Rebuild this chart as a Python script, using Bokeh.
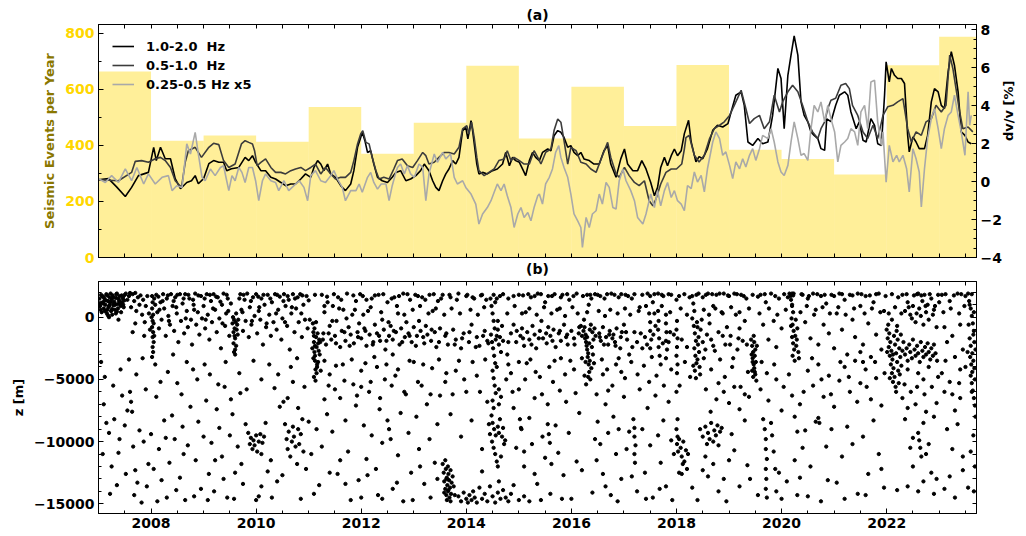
import math
from bokeh.plotting import figure
from bokeh.models import (Range1d, LinearAxis, SingleIntervalTicker, FixedTicker,
                          CustomJSTickFormatter)
from bokeh.layouts import column
from bokeh.embed import file_html
from bokeh.resources import INLINE

# ---------------- data ----------------
bar_years = [2007, 2008, 2009, 2010, 2011, 2012, 2013, 2014, 2015, 2016, 2017, 2018, 2019, 2020, 2021, 2022, 2023]
events_per_year = [663, 416, 435, 413, 537, 370, 481, 684, 424, 609, 469, 687, 384, 351, 296, 686, 787]

# dv/v [%] 1.0-2.0 Hz
hf = [(2007.00,0.09),(2007.19,0.15),(2007.34,-0.27),(2007.51,-0.79),(2007.63,-0.31),(2007.76,0.31),(2007.95,0.48),(2008.05,1.80),(2008.10,1.10),(2008.18,1.80),(2008.27,1.20),(2008.37,1.20),(2008.46,0.15),(2008.56,-0.38),(2008.68,-0.05),(2008.77,0.04),(2008.84,0.31),(2008.90,-0.12),(2009.00,0.15),(2009.10,0.94),(2009.19,1.10),(2009.29,1.01),(2009.38,1.01),(2009.44,0.57),(2009.53,0.67),(2009.67,0.74),(2009.79,1.27),(2009.86,1.10),(2009.93,1.36),(2009.99,1.01),(2010.09,0.57),(2010.18,0.57),(2010.28,0.22),(2010.37,0.13),(2010.47,-0.05),(2010.56,-0.22),(2010.66,-0.13),(2010.75,-0.13),(2010.85,0.13),(2010.94,0.40),(2011.04,0.22),(2011.10,0.74),(2011.17,1.10),(2011.23,0.92),(2011.29,0.57),(2011.36,0.92),(2011.42,0.40),(2011.51,0.22),(2011.61,-0.22),(2011.70,-0.48),(2011.80,-0.13),(2011.86,0.57),(2011.93,1.80),(2011.99,2.32),(2012.02,2.59),(2012.07,2.15),(2012.12,1.53),(2012.18,1.62),(2012.24,0.92),(2012.31,0.22),(2012.40,0.04),(2012.50,-0.05),(2012.59,0.22),(2012.66,0.48),(2012.75,0.57),(2012.85,0.04),(2012.94,0.13),(2013.04,0.31),(2013.13,0.57),(2013.20,0.92),(2013.29,0.57),(2013.36,0.04),(2013.42,-0.31),(2013.48,-0.48),(2013.55,0.04),(2013.61,0.40),(2013.67,0.66),(2013.74,1.10),(2013.80,0.92),(2013.86,1.27),(2013.93,2.68),(2013.99,2.85),(2014.03,2.24),(2014.09,3.21),(2014.12,2.68),(2014.16,1.80),(2014.20,0.92),(2014.24,0.40),(2014.31,0.48),(2014.40,0.40),(2014.50,0.57),(2014.59,0.66),(2014.69,0.92),(2014.75,1.53),(2014.82,0.83),(2014.88,1.27),(2014.94,1.10),(2015.01,1.01),(2015.07,0.66),(2015.13,0.31),(2015.20,1.10),(2015.26,1.53),(2015.32,1.27),(2015.39,1.10),(2015.45,1.53),(2015.55,1.71),(2015.61,1.62),(2015.67,2.41),(2015.74,2.68),(2015.80,2.59),(2015.86,2.32),(2015.93,1.80),(2015.99,1.89),(2016.05,1.53),(2016.12,1.36),(2016.18,1.53),(2016.24,1.19),(2016.34,1.10),(2016.43,0.92),(2016.53,0.92),(2016.62,1.62),(2016.69,1.89),(2016.75,0.92),(2016.85,0.22),(2016.94,1.19),(2017.01,1.71),(2017.07,0.92),(2017.17,0.57),(2017.26,0.57),(2017.34,1.10),(2017.42,0.66),(2017.51,-0.05),(2017.58,-0.75),(2017.64,-0.31),(2017.70,0.74),(2017.77,1.27),(2017.83,0.83),(2017.90,1.36),(2017.96,1.71),(2018.02,1.36),(2018.09,1.62),(2018.15,2.52),(2018.23,3.22),(2018.28,2.08),(2018.37,1.03),(2018.43,1.31),(2018.50,1.20),(2018.59,1.73),(2018.69,2.69),(2018.78,2.96),(2018.88,2.87),(2018.98,3.05),(2019.04,3.66),(2019.13,4.54),(2019.23,4.72),(2019.29,4.01),(2019.36,2.08),(2019.45,1.90),(2019.55,2.26),(2019.64,1.99),(2019.74,2.08),(2019.83,3.48),(2019.93,5.95),(2019.99,5.42),(2020.05,2.78),(2020.12,5.59),(2020.18,6.65),(2020.24,7.67),(2020.31,6.65),(2020.37,4.19),(2020.43,3.48),(2020.50,3.14),(2020.56,2.61),(2020.62,2.43),(2020.69,2.26),(2020.75,1.73),(2020.82,1.64),(2020.86,3.30),(2020.94,3.15),(2021.03,4.01),(2021.10,4.54),(2021.20,4.72),(2021.26,4.54),(2021.32,3.66),(2021.42,2.78),(2021.48,3.14),(2021.55,2.17),(2021.61,2.08),(2021.70,3.31),(2021.77,2.96),(2021.83,1.99),(2021.90,1.90),(2021.96,4.54),(2021.99,6.30),(2022.05,5.25),(2022.09,5.95),(2022.15,5.59),(2022.21,5.42),(2022.28,5.42),(2022.34,5.16),(2022.40,2.43),(2022.43,1.56),(2022.50,2.35),(2022.56,2.08),(2022.62,1.73),(2022.72,1.73),(2022.78,2.43),(2022.85,4.19),(2022.91,4.89),(2022.98,4.72),(2023.04,4.01),(2023.10,3.84),(2023.17,5.77),(2023.23,6.83),(2023.29,6.12),(2023.36,4.72),(2023.42,2.61),(2023.49,2.43),(2023.55,2.08),(2023.61,1.99)]

# dv/v [%] 0.5-1.0 Hz
mf = [(2007.00,0.09),(2007.38,0.04),(2007.63,0.48),(2007.70,1.06),(2007.82,1.10),(2007.95,1.01),(2008.08,1.20),(2008.18,1.27),(2008.27,1.10),(2008.37,0.74),(2008.46,0.04),(2008.58,-0.31),(2008.65,1.01),(2008.71,1.62),(2008.84,1.80),(2008.96,1.27),(2009.10,1.80),(2009.19,2.01),(2009.29,1.94),(2009.38,1.10),(2009.48,0.74),(2009.60,0.92),(2009.72,1.98),(2009.79,2.15),(2009.86,2.06),(2009.93,1.98),(2009.97,1.62),(2010.02,0.83),(2010.09,1.01),(2010.18,1.19),(2010.28,0.74),(2010.37,0.48),(2010.47,0.48),(2010.56,0.40),(2010.66,0.57),(2010.75,0.66),(2010.85,0.74),(2010.94,0.57),(2011.04,0.74),(2011.13,0.92),(2011.23,0.40),(2011.32,0.74),(2011.42,0.40),(2011.51,0.13),(2011.61,0.22),(2011.70,0.22),(2011.80,0.48),(2011.86,1.10),(2011.93,1.98),(2011.99,2.50),(2012.03,2.68),(2012.09,2.06),(2012.15,1.98),(2012.21,1.27),(2012.28,0.57),(2012.34,0.13),(2012.43,0.22),(2012.53,0.13),(2012.62,0.66),(2012.69,1.10),(2012.78,1.19),(2012.88,0.83),(2012.98,0.74),(2013.07,1.10),(2013.17,1.53),(2013.23,1.36),(2013.29,0.92),(2013.39,1.01),(2013.48,1.27),(2013.58,1.53),(2013.67,1.53),(2013.77,1.45),(2013.86,1.80),(2013.93,2.77),(2014.01,2.94),(2014.05,2.50),(2014.10,3.12),(2014.15,2.32),(2014.20,1.27),(2014.24,0.57),(2014.34,0.31),(2014.43,0.48),(2014.53,0.66),(2014.62,1.10),(2014.72,1.19),(2014.78,1.62),(2014.85,1.10),(2014.91,1.27),(2015.01,1.10),(2015.10,0.92),(2015.20,0.92),(2015.29,1.62),(2015.36,1.27),(2015.42,0.92),(2015.51,1.53),(2015.61,1.71),(2015.67,2.68),(2015.74,3.29),(2015.80,3.12),(2015.86,2.15),(2015.93,0.92),(2015.99,1.80),(2016.09,1.62),(2016.18,1.01),(2016.28,0.92),(2016.37,0.66),(2016.47,0.48),(2016.59,1.36),(2016.69,2.06),(2016.75,1.27),(2016.85,0.40),(2016.91,0.22),(2017.01,0.74),(2017.10,0.31),(2017.20,-0.05),(2017.29,-0.22),(2017.39,0.04),(2017.48,-1.01),(2017.55,-1.28),(2017.61,-0.92),(2017.70,-0.13),(2017.80,0.48),(2017.90,0.66),(2018.00,0.66),(2018.10,0.92),(2018.15,1.71),(2018.18,2.31),(2018.24,2.43),(2018.34,1.38),(2018.43,1.03),(2018.53,1.38),(2018.63,2.26),(2018.72,2.78),(2018.82,2.96),(2018.91,3.14),(2019.01,3.48),(2019.10,4.01),(2019.23,4.80),(2019.32,3.84),(2019.39,3.05),(2019.48,3.31),(2019.58,3.48),(2019.67,2.78),(2019.77,3.14),(2019.86,4.54),(2019.96,3.66),(2020.02,4.19),(2020.12,4.72),(2020.21,5.07),(2020.31,4.72),(2020.40,4.01),(2020.50,3.14),(2020.59,2.61),(2020.69,2.26),(2020.75,2.78),(2020.82,3.14),(2020.88,3.84),(2020.94,4.28),(2021.03,4.38),(2021.13,5.07),(2021.22,5.16),(2021.29,4.89),(2021.35,4.01),(2021.45,3.48),(2021.55,2.61),(2021.64,2.26),(2021.74,2.96),(2021.83,2.26),(2021.93,3.48),(2022.02,3.93),(2022.12,4.01),(2022.21,4.19),(2022.31,4.36),(2022.40,2.78),(2022.47,2.08),(2022.56,2.61),(2022.66,2.43),(2022.75,3.14),(2022.85,3.31),(2022.94,4.01),(2023.04,3.66),(2023.13,4.01),(2023.20,6.65),(2023.26,5.95),(2023.32,4.89),(2023.39,3.66),(2023.45,2.78),(2023.55,2.87),(2023.64,2.61)]

# dv/v [%] 0.25-0.5 Hz (x5)
lf = [(2007.00,0.15),(2007.13,-0.05),(2007.25,0.31),(2007.38,-0.05),(2007.51,0.66),(2007.63,0.04),(2007.73,0.74),(2007.86,-0.13),(2007.95,0.40),(2008.08,-0.13),(2008.21,0.22),(2008.33,0.31),(2008.40,-0.48),(2008.49,-0.22),(2008.59,-0.31),(2008.65,1.19),(2008.68,1.98),(2008.75,1.45),(2008.84,2.59),(2008.90,1.45),(2008.97,0.22),(2009.03,0.04),(2009.13,0.66),(2009.22,0.31),(2009.32,0.74),(2009.38,0.83),(2009.44,0.04),(2009.48,-0.48),(2009.54,0.31),(2009.60,0.04),(2009.67,0.74),(2009.73,0.48),(2009.79,-0.05),(2009.86,0.74),(2009.93,0.74),(2009.99,0.04),(2010.05,-1.01),(2010.12,0.04),(2010.18,0.40),(2010.28,0.04),(2010.37,-0.05),(2010.43,-0.48),(2010.53,0.04),(2010.62,-0.48),(2010.72,-0.22),(2010.82,0.04),(2010.91,-0.31),(2010.98,-1.01),(2011.04,0.31),(2011.13,0.57),(2011.23,0.04),(2011.32,-0.05),(2011.42,0.31),(2011.48,0.57),(2011.55,0.13),(2011.64,-0.31),(2011.70,-1.01),(2011.80,-0.48),(2011.90,-0.48),(2011.96,-0.13),(2012.02,-0.57),(2012.12,0.22),(2012.18,0.48),(2012.24,-0.05),(2012.31,-0.40),(2012.38,-0.13),(2012.47,-0.13),(2012.53,-1.01),(2012.59,-0.22),(2012.66,0.48),(2012.69,0.74),(2012.75,0.92),(2012.82,0.40),(2012.88,0.83),(2012.94,0.40),(2013.01,0.22),(2013.10,0.92),(2013.17,0.74),(2013.23,-1.01),(2013.29,0.40),(2013.39,1.45),(2013.45,1.01),(2013.55,1.53),(2013.61,1.19),(2013.70,1.45),(2013.77,0.22),(2013.83,-0.13),(2013.93,0.04),(2013.99,-0.31),(2014.09,-0.66),(2014.18,-1.19),(2014.24,-2.24),(2014.31,-1.71),(2014.40,-1.37),(2014.47,-1.01),(2014.53,-0.57),(2014.59,-0.13),(2014.66,-0.48),(2014.72,-0.13),(2014.78,-0.75),(2014.85,-1.37),(2014.91,-2.42),(2014.98,-1.71),(2015.04,-1.37),(2015.10,-1.89),(2015.17,-1.63),(2015.23,-2.07),(2015.29,-1.37),(2015.36,-0.75),(2015.39,-0.66),(2015.45,-1.19),(2015.51,-0.13),(2015.58,0.22),(2015.64,0.66),(2015.70,1.53),(2015.76,1.89),(2015.80,1.27),(2015.86,0.74),(2015.93,0.22),(2015.99,-0.66),(2016.05,-1.71),(2016.12,-2.07),(2016.18,-2.42),(2016.21,-3.47),(2016.28,-1.89),(2016.34,-2.42),(2016.40,-1.71),(2016.47,-1.54),(2016.53,-0.66),(2016.59,-1.19),(2016.66,-0.05),(2016.72,-0.31),(2016.79,-1.37),(2016.85,-1.45),(2016.91,0.04),(2016.98,0.66),(2017.04,0.04),(2017.13,-0.48),(2017.20,-1.01),(2017.26,-1.89),(2017.36,-2.24),(2017.42,-1.71),(2017.51,-0.66),(2017.58,-1.37),(2017.64,-0.48),(2017.70,-1.28),(2017.77,-0.48),(2017.83,-0.05),(2017.90,-0.84),(2017.96,-0.48),(2018.02,-1.01),(2018.09,-1.19),(2018.15,-1.54),(2018.21,-0.21),(2018.28,-0.38),(2018.34,0.50),(2018.40,-0.03),(2018.47,0.32),(2018.53,-0.55),(2018.59,0.67),(2018.69,2.08),(2018.75,2.61),(2018.82,2.26),(2018.88,1.38),(2018.94,1.56),(2019.01,0.85),(2019.07,0.15),(2019.13,1.03),(2019.20,0.67),(2019.26,1.20),(2019.32,0.76),(2019.39,1.38),(2019.45,1.73),(2019.51,1.11),(2019.58,1.73),(2019.64,2.43),(2019.74,2.26),(2019.80,2.78),(2019.86,2.08),(2019.93,1.03),(2019.99,0.50),(2020.05,0.32),(2020.12,0.85),(2020.18,2.08),(2020.24,3.14),(2020.31,2.26),(2020.37,1.38),(2020.43,1.47),(2020.50,1.11),(2020.56,2.78),(2020.62,4.01),(2020.69,3.66),(2020.75,4.19),(2020.82,3.14),(2020.88,4.01),(2020.94,3.31),(2021.01,2.61),(2021.07,1.03),(2021.13,1.90),(2021.20,2.08),(2021.26,2.26),(2021.32,2.78),(2021.39,2.61),(2021.45,1.90),(2021.51,3.66),(2021.58,4.01),(2021.64,2.78),(2021.70,5.24),(2021.77,5.33),(2021.83,3.14),(2021.90,1.90),(2021.93,2.61),(2021.99,-0.03),(2022.05,1.90),(2022.12,1.03),(2022.19,1.38),(2022.24,1.03),(2022.31,1.38),(2022.38,0.67),(2022.43,-0.55),(2022.50,1.73),(2022.56,1.20),(2022.62,0.50),(2022.66,-1.34),(2022.72,0.67),(2022.78,2.26),(2022.85,3.31),(2022.91,3.84),(2022.98,2.78),(2023.04,1.73),(2023.10,2.78),(2023.17,3.48),(2023.23,3.66),(2023.29,4.54),(2023.36,3.48),(2023.42,2.61),(2023.49,1.38),(2023.55,4.72),(2023.58,2.96),(2023.61,3.48)]

# seismic events (time [yr], z [m])
q_2007_2008 = [(2007.02,1500),(2007.03,900),(2007.05,1800),(2007.06,400),(2007.08,1200),(2007.09,1650),(2007.10,700),(2007.12,1400),(2007.13,1000),(2007.15,1850),(2007.16,300),(2007.18,1300),(2007.19,800),(2007.21,1600),(2007.22,1100),(2007.24,500),(2007.25,1450),(2007.27,1750),(2007.28,950),(2007.30,1250),(2007.31,600),(2007.33,1550),(2007.34,1850),(2007.36,1050),(2007.37,700),(2007.39,1350),(2007.40,1700),(2007.42,900),(2007.43,400),(2007.45,1200),(2007.46,1500),(2007.48,800),(2007.50,1800),(2007.04,1150),(2007.11,1550),(2007.17,600),(2007.23,1900),(2007.29,1150),(2007.35,450),(2007.41,1100),(2007.47,1650),(2007.20,0),(2007.38,-200),(2007.26,200),
  (2007.52,1900),(2007.55,1400),(2007.58,1700),(2007.60,1950),(2007.62,800),(2007.65,1850),(2007.68,1300),(2007.70,1950),(2007.72,500),(2007.75,1600),(2007.78,1000),(2007.80,1750),(2007.83,200),(2007.85,1400),(2007.88,-400),(2007.90,900),(2007.93,1700),(2007.96,300),(2007.98,-1000),(2007.70,-500),(2007.65,-1200),(2007.87,-1500),
  (2008.02,1700),(2008.03,1200),(2008.02,700),(2008.04,200),(2008.03,-300),(2008.02,-800),(2008.04,-1200),(2008.03,-1600),(2008.05,-2000),(2008.03,-2400),(2008.04,-2800),(2008.02,-3200),(2008.06,1500),(2008.05,-500),(2008.01,0),(2008.06,-1500)]

q_2008_2011 = [(2008.10,1800),(2008.12,400),(2008.15,-900),(2008.18,1200),(2008.20,-200),(2008.23,1850),(2008.25,700),(2008.28,-1500),(2008.30,1500),(2008.33,100),(2008.36,-600),(2008.38,1850),(2008.41,900),(2008.44,-1100),(2008.46,1600),(2008.49,300),(2008.52,-2000),(2008.55,1850),(2008.57,-300),(2008.60,1100),(2008.63,-1300),(2008.65,1850),(2008.68,500),(2008.70,-800),(2008.73,1500),(2008.76,-200),(2008.78,-2200),(2008.81,1000),(2008.84,1900),(2008.86,-600),(2008.89,400),(2008.92,-1400),(2008.95,1700),(2008.97,-100),(2009.00,900),(2009.03,-900),(2009.06,1850),(2009.08,200),(2009.11,-1800),(2009.14,1300),(2009.16,-400),(2009.19,1850),(2009.22,600),(2009.25,-1200),(2009.27,1600),(2009.30,-100),(2009.33,-2500),(2009.35,1000),(2009.38,1900),(2009.41,-700),(2009.43,300),(2009.46,1500),(2009.49,-1500),
  (2009.55,-500),(2009.57,-1200),(2009.58,-200),(2009.59,-900),(2009.60,-1700),(2009.61,-400),(2009.62,-2300),(2009.63,-1000),(2009.58,-2800),(2009.60,-3000),(2009.64,-600),(2009.56,0),(2009.62,300),(2009.65,-1400),(2009.57,-2100),(2009.60,-2600),(2009.66,-200),(2009.59,-1500),
  (2009.70,1850),(2009.72,600),(2009.75,-1100),(2009.78,1400),(2009.80,-300),(2009.83,1900),(2009.86,-1600),(2009.88,800),(2009.91,-600),(2009.94,1600),(2009.97,100),(2010.00,1850),(2010.02,-1300),(2010.05,500),(2010.08,-200),(2010.10,1500),(2010.13,-2200),(2010.16,1000),(2010.19,-800),(2010.22,1800),(2010.25,200),(2010.28,-1500),(2010.30,1200),(2010.33,-400),(2010.36,1850),(2010.39,-1000),(2010.42,600),(2010.45,1650),(2010.48,-1800),(2010.50,-100),(2010.53,1850),(2010.56,900),(2010.59,-700),(2010.62,1400),(2010.64,-2600),(2010.67,300),(2010.70,1850),(2010.73,-1200),(2010.76,700),(2010.79,1600),(2010.81,-400),(2010.84,1850),(2010.87,-1600),(2010.90,1000),(2010.93,-200),(2010.96,1700),(2010.98,-900),
  (2011.08,-500),(2011.09,-1200),(2011.10,-2000),(2011.11,-2800),(2011.12,-3500),(2011.13,-4200),(2011.10,-4800),(2011.14,-1600),(2011.15,-2400),(2011.12,-3100),(2011.16,-3800),(2011.11,-900),(2011.13,-5100),(2011.17,-1300),(2011.18,-2100),(2011.09,-3300),(2011.15,-4500),(2011.19,-2700),(2011.20,-1800),(2011.14,-400),(2011.21,-3000),(2011.10,-1500),(2011.16,-4000),(2011.12,-2300),(2011.22,-2000),(2011.18,-3600),(2011.07,-2500),(2011.23,-4300)]

q_deep_2007_2011 = [(2007.05,-3600),(2007.10,-7000),(2007.15,-8500),(2007.20,-9300),(2007.25,-12000),(2007.30,-8200),(2007.35,-13500),(2007.40,-9800),(2007.45,-6300),(2007.50,-8700),(2007.55,-7500),(2007.60,-6000),(2007.62,-6800),(2007.64,-7600),(2007.66,-10400),(2007.70,-12300),(2007.74,-13300),(2007.78,-9100),(2007.82,-14900),(2007.86,-10000),(2007.90,-5800),(2007.95,-11800),(2008.00,-9400),(2008.05,-12200),(2008.10,-6400),(2008.15,-10600),(2008.20,-13100),(2008.25,-8300),(2008.30,-14500),(2008.35,-11700),(2008.40,-7900),(2008.45,-9800),(2008.50,-5300),(2008.55,-12900),(2008.60,-8800),(2008.65,-14700),(2008.70,-10300),(2008.75,-7200),(2008.80,-4200),(2008.85,-11500),(2008.90,-8400),(2008.95,-13800),(2009.00,-9600),(2009.05,-6700),(2009.10,-12600),(2009.15,-10100),(2009.20,-14000),(2009.25,-7400),(2009.30,-8900),(2009.35,-11200),(2009.40,-5600),(2009.45,-14500),(2009.50,-9500),(2009.55,-7800),(2009.60,-12500),(2009.65,-10400),(2009.70,-6100),(2009.75,-13400),(2009.80,-8600),
  (2009.85,-9300),(2009.88,-10200),(2009.90,-9700),(2009.93,-10600),(2009.95,-9900),(2009.97,-10300),(2010.00,-9500),(2010.02,-10800),(2010.05,-10000),(2010.08,-9400),(2010.10,-11000),(2010.12,-10100),(2010.15,-9600),(2010.00,-14700),(2010.05,-14400),(2010.10,-13600),(2010.18,-8500),(2010.22,-12400),(2010.28,-11500),(2010.35,-5700),(2010.40,-13200),(2010.45,-7200),
  (2010.55,-8600),(2010.58,-9800),(2010.60,-10600),(2010.62,-9200),(2010.65,-11200),(2010.68,-10000),(2010.70,-8800),(2010.72,-9600),(2010.75,-10400),(2010.78,-11800),(2010.80,-9000),(2010.82,-10200),(2010.85,-9400),(2010.88,-8200),(2010.90,-10800),(2010.60,-6500),(2010.70,-5200),(2010.80,-7300),(2010.85,-14600),(2010.95,-12200),(2011.00,-8400),(2011.05,-11000),(2011.15,-9000),(2011.20,-13500),(2011.25,-10400),(2011.30,-6600)]

q_2011_2013 = [(2011.25,1800),(2011.28,-1300),(2011.30,400),(2011.33,-2200),(2011.36,1200),(2011.40,-700),(2011.43,-1800),(2011.46,900),(2011.50,-1500),(2011.53,-300),(2011.56,1600),(2011.60,-2400),(2011.63,-1100),(2011.66,600),(2011.70,-1900),(2011.73,1900),(2011.76,-800),(2011.80,-1400),(2011.83,200),(2011.86,-2100),(2011.90,1300),(2011.93,-1200),(2011.96,-500),(2012.00,-1700),(2012.03,1700),(2012.06,-900),(2012.10,-2300),(2012.13,500),(2012.16,-1400),(2012.20,1500),(2012.23,-2000),(2012.26,-600),(2012.30,-1300),(2012.33,1800),(2012.36,-1900),(2012.40,-200),(2012.43,-1000),(2012.46,-2600),(2012.50,1200),(2012.53,-1500),(2012.56,-700),(2012.60,-1800),(2012.63,1600),(2012.66,-1200),(2012.70,300),(2012.73,-2200),(2012.76,-900),(2012.80,1900),(2012.83,-1600),(2012.86,-400),(2012.90,-1300),(2012.93,1400),(2012.96,-2000),(2013.00,-800),(2013.03,1800),(2013.06,-1500),(2013.10,-300),(2013.13,-1100),(2013.16,1600),(2013.20,-2100),(2013.23,-700),(2013.26,-1400),(2013.30,1800),(2013.33,-1900),(2013.36,500),(2013.40,-1200),(2013.43,-2400),(2013.46,1300),(2013.50,-900),
  (2011.30,-3500),(2011.35,-7800),(2011.40,-4600),(2011.45,-9200),(2011.50,-5800),(2011.55,-12600),(2011.60,-6500),(2011.65,-3800),(2011.70,-8300),(2011.75,-10800),(2011.80,-14700),(2011.85,-5400),(2011.90,-7100),(2011.95,-13100),(2012.00,-4300),(2012.05,-8700),(2012.10,-11400),(2012.15,-6000),(2012.20,-9500),(2012.25,-3200),(2012.28,-12200),(2012.32,-14300),(2012.35,-7400),(2012.40,-10100),(2012.45,-5000),(2012.50,-8300),(2012.53,-9000),(2012.56,-9800),(2012.60,-13800),(2012.65,-4700),(2012.70,-11100),(2012.75,-7700),(2012.80,-14800),(2012.85,-6200),(2012.90,-9300),(2012.95,-12500),(2013.00,-3600),(2013.05,-8000),(2013.10,-10600),(2013.15,-5500),(2013.20,-13400),(2013.25,-7000),(2013.30,-9800),(2013.35,-4100),(2013.40,-11700),(2013.45,-8600),(2013.50,-6300),(2012.30,-4000),(2012.60,-3000),(2012.00,-5600),(2011.60,-11500)]

q_2013_2016 = [(2013.55,-11800),(2013.57,-12500),(2013.58,-13200),(2013.60,-13800),(2013.61,-12200),(2013.62,-14300),(2013.63,-12900),(2013.64,-13500),(2013.65,-14000),(2013.66,-12600),(2013.67,-13100),(2013.68,-14500),(2013.69,-13700),(2013.70,-12300),(2013.71,-14200),(2013.72,-13300),(2013.60,-11500),(2013.63,-14700),(2013.66,-13900),(2013.74,-12800),(2013.76,-13600),(2013.58,-14100),(2013.65,-12000),(2013.70,-14800),(2013.78,-14300),(2013.62,-13000),
  (2013.85,-14400),(2013.90,-14800),(2013.95,-14100),(2014.00,-14600),(2014.03,-14900),(2014.06,-14300),(2014.10,-14700),(2014.13,-14000),(2014.16,-14500),(2014.20,-14900),(2014.25,-13700),(2014.30,-14600),(2014.35,-14200),(2014.40,-14800),(2014.45,-13600),(2014.50,-14400),(2014.55,-14900),(2014.60,-14100),(2014.65,-14600),(2014.70,-13900),(2014.75,-14500),(2014.80,-14800),(2014.85,-14200),(2014.90,-13500),(2015.00,-14700),(2015.10,-14400),(2015.20,-14800),
  (2014.46,1500),(2014.48,900),(2014.50,300),(2014.52,-300),(2014.54,-900),(2014.47,-1400),(2014.49,-2000),(2014.51,-2500),(2014.53,-3100),(2014.55,-3700),(2014.50,-4300),(2014.52,-4900),(2014.54,-5500),(2014.56,-6100),(2014.50,-6700),(2014.52,-7300),(2014.48,-7900),(2014.50,-8500),(2014.53,-9000),(2014.56,-9500),(2014.49,-10000),(2014.52,-10500),(2014.55,-11000),(2014.58,-11600),(2014.60,-8800),(2014.62,-9300),(2014.64,-8200),(2014.58,-1500),(2014.60,-1000),(2014.62,-2200),(2014.56,-1800),(2014.60,-300),(2014.64,-1600),(2014.66,-2800),(2014.68,-9600),(2014.70,-8900),(2014.72,-10200),(2014.66,-11200),(2014.58,-4000),(2014.62,-5800),(2014.55,1200),(2014.60,-12000),(2014.45,-9400),(2014.43,-8600),(2014.68,-700),(2014.70,-1900),(2014.74,-9900),
  (2013.55,1800),(2013.60,-1500),(2013.65,-2200),(2013.70,1600),(2013.75,-1000),(2013.80,-1800),(2013.85,1900),(2013.90,-2500),(2013.95,-1300),(2014.00,1700),(2014.05,-2000),(2014.10,-600),(2014.15,1500),(2014.20,-1600),(2014.25,-2300),(2014.30,1800),(2014.35,-1100),(2014.40,-1900),(2013.60,-5200),(2013.70,-7800),(2013.80,-4300),(2013.90,-9600),(2014.00,-6000),(2014.10,-8300),(2014.20,-4700),(2014.30,-10600),(2014.40,-6800),
  (2014.80,1500),(2014.85,-1300),(2014.90,-600),(2014.95,-2000),(2015.00,1800),(2015.03,-1500),(2015.06,-900),(2015.10,-2300),(2015.13,400),(2015.16,-1200),(2015.20,-1800),(2015.23,1600),(2015.26,-700),(2015.30,-1400),(2015.33,-2500),(2015.36,1900),(2015.40,-1100),(2015.43,-300),(2015.46,-1700),(2015.50,1200),(2015.53,-2100),(2015.56,-800),(2015.60,-1500),(2015.63,1700),(2015.66,-1000),(2015.70,-2400),(2015.73,600),(2015.76,-1300),(2015.80,-1900),(2015.83,1800),(2015.86,-600),(2015.90,-1600),(2015.93,-2200),(2015.96,1400),(2016.00,-1100),(2016.05,-1700),(2016.10,1900),(2016.15,-800),
  (2014.85,-4500),(2014.90,-7300),(2014.95,-10500),(2015.00,-5800),(2015.05,-9000),(2015.10,-12000),(2015.15,-3700),(2015.20,-8100),(2015.25,-10200),(2015.30,-6500),(2015.35,-13400),(2015.40,-4800),(2015.45,-9600),(2015.50,-11300),(2015.55,-7000),(2015.60,-14200),(2015.65,-5200),(2015.70,-8700),(2015.75,-10900),(2015.80,-3300),(2015.85,-12700),(2015.90,-6800),(2015.95,-9300),(2016.00,-14600),(2016.05,-4200),(2016.10,-11600),(2016.15,-7700),(2015.55,-8600),(2015.57,-9400),(2015.59,-10100),(2015.02,-8200),(2015.04,-8900),(2014.78,-3000),(2014.80,-3800)]

q_2016_2018 = [(2016.22,1700),(2016.24,-200),(2016.25,-800),(2016.27,-1400),(2016.28,-2000),(2016.30,-2600),(2016.31,-3200),(2016.33,-3800),(2016.34,-4400),(2016.36,-5000),(2016.23,-1100),(2016.26,-1700),(2016.29,-2300),(2016.32,-2900),(2016.35,-3500),(2016.38,-4100),(2016.40,-1200),(2016.42,-1800),(2016.37,-600),(2016.30,400),(2016.33,1000),(2016.36,1800),(2016.39,-2400),(2016.41,-3000),(2016.44,-900),(2016.46,-1500),(2016.20,-1500),(2016.18,-700),(2016.32,-4800),(2016.28,-5400),(2016.35,-1000),(2016.30,-1600),(2016.34,-2100),(2016.27,-3600),(2016.25,-4700),(2016.43,-3700),
  (2016.50,1800),(2016.53,-1300),(2016.56,-1900),(2016.60,-800),(2016.63,1500),(2016.66,-1600),(2016.70,-2200),(2016.73,-1100),(2016.76,1900),(2016.78,-1700),(2016.80,-1400),(2016.83,-2000),(2016.86,-900),(2016.90,1600),(2016.93,-2500),(2016.96,-1200),(2017.00,-600),(2017.03,1800),(2017.06,-1800),(2017.10,-3000),(2016.60,-4600),(2016.70,-5900),(2016.85,-3800),(2016.95,-4400),
  (2016.50,-8400),(2016.55,-10200),(2016.60,-12600),(2016.65,-7000),(2016.70,-9300),(2016.75,-14300),(2016.80,-8000),(2016.85,-11000),(2016.90,-9000),(2016.95,-13000),(2017.00,-6400),(2017.05,-10600),(2016.45,-9800),(2016.48,-11500),
  (2017.18,-8200),(2017.20,-8900),(2017.20,-9600),(2017.22,-10300),(2017.20,-11000),(2017.21,-11700),(2017.15,1500),(2017.20,-1200),(2017.25,-2000),(2017.30,800),(2017.35,-2500),(2017.40,-1600),(2017.45,1900),(2017.48,300),(2017.50,-400),(2017.50,-1100),(2017.52,-1800),(2017.50,-2500),(2017.53,-3200),(2017.55,1200),(2017.60,-700),(2017.65,1900),(2017.65,500),(2017.66,-300),(2017.65,-1000),(2017.67,-1700),(2017.66,-2400),(2017.68,-3100),(2017.70,-3800),(2017.75,1700),(2017.80,200),(2017.80,-500),(2017.81,-1200),(2017.80,-1900),(2017.82,-2600),(2017.80,-3300),(2017.85,-2000),(2017.90,1800),(2017.95,-1400),
  (2017.30,-5800),(2017.35,-9000),(2017.40,-12500),(2017.45,-7300),(2017.50,-10300),(2017.55,-14500),(2017.60,-6300),(2017.65,-9500),(2017.70,-11700),(2017.75,-8300),(2017.80,-13600),(2017.85,-6800),(2017.90,-9900),(2017.95,-11000),(2017.25,-14000),(2017.10,-9200)]

q_2018_2020 = [(2018.00,1400),(2018.01,-300),(2018.00,-1000),(2018.02,-1700),(2018.01,-2400),(2018.00,-3100),(2018.02,-3800),(2018.01,-4500),(2018.00,-6000),(2018.02,-8200),(2018.00,-9000),(2018.02,-9600),(2018.01,-10200),(2018.03,-10800),(2018.05,-9800),(2018.08,-10500),(2018.10,-11200),(2018.13,-10000),(2018.15,-11600),(2018.18,-10700),(2018.20,-12200),(2018.05,-12500),(2018.12,-11800),(2018.10,-12600),(2018.22,-11000),
  (2018.30,1700),(2018.32,1100),(2018.34,500),(2018.30,-100),(2018.33,-700),(2018.35,-1300),(2018.37,-1900),(2018.34,-2500),(2018.36,-3100),(2018.38,-3700),(2018.35,-4300),(2018.37,-4900),(2018.40,-800),(2018.42,-1600),(2018.41,-2200),(2018.43,-2800),(2018.40,-3400),(2018.44,-4000),(2018.46,-1000),(2018.48,-200),(2018.50,-2000),(2018.45,-4600),(2018.38,1800),(2018.50,1600),(2018.55,-2600),(2018.52,-3300),(2018.32,-3900),(2018.39,-400),
  (2018.45,-9000),(2018.50,-9600),(2018.55,-8800),(2018.58,-10200),(2018.60,-9300),(2018.63,-9800),(2018.66,-8500),(2018.70,-10000),(2018.72,-9100),(2018.75,-9500),(2018.78,-8700),(2018.80,-10300),(2018.83,-9200),(2018.86,-8900),(2018.50,-12300),(2018.55,-11200),(2018.70,-11800),(2018.65,-7600),
  (2018.60,1900),(2018.63,-500),(2018.66,-1800),(2018.70,900),(2018.73,-2700),(2018.76,1800),(2018.80,-1200),(2018.83,-3400),(2018.86,400),(2018.90,1900),(2018.93,-2200),(2018.96,-800),(2019.00,1700),(2019.03,-1500),(2019.06,-4000),(2019.10,1900),(2019.13,200),(2019.16,-2600),(2019.20,-900),(2019.23,1800),(2019.26,-1900),(2019.30,-300),(2019.33,1500),(2019.36,-4400),(2018.80,-5300),(2018.90,-6000),(2019.00,-6900),(2019.10,-5600),(2019.20,-7400),(2019.30,-6200),
  (2018.60,-12800),(2018.80,-14000),(2018.90,-13000),(2019.00,-11500),(2019.05,-9400),(2019.10,-10700),(2019.20,-13600),(2019.30,-8300),(2019.35,-11900),
  (2019.42,-1800),(2019.44,-2300),(2019.46,-2800),(2019.45,-3300),(2019.47,-3800),(2019.44,-4300),(2019.46,-4800),(2019.48,-2000),(2019.50,-2600),(2019.49,-3100),(2019.51,-3600),(2019.48,-4100),(2019.50,-4600),(2019.52,-5100),(2019.43,-3000),(2019.53,-2300),(2019.47,-1500),(2019.45,-3600),(2019.49,-4400),
  (2019.65,-8200),(2019.68,-9000),(2019.70,-9800),(2019.70,-10600),(2019.72,-11400),(2019.70,-12200),(2019.71,-13000),(2019.70,-13800),(2019.72,-14500),(2019.80,-8500),(2019.82,-9500),(2019.85,-10800),(2019.60,1800),(2019.65,-600),(2019.70,1200),(2019.75,-1800),(2019.80,1900),(2019.85,-300),(2019.90,-2400),(2019.95,1500),(2020.00,-900),(2019.60,-5800),(2019.75,-6700),(2019.90,-5000),(2020.00,-7500),(2019.95,-12500),(2020.00,-14600),(2019.90,-14000)]

q_2020_2022 = [(2020.15,1900),(2020.17,1700),(2020.20,1900),(2020.18,1400),(2020.20,900),(2020.22,400),(2020.19,-100),(2020.21,-600),(2020.23,-1100),(2020.20,-1600),(2020.22,-2100),(2020.24,-2600),(2020.21,-3100),(2020.26,-1500),(2020.28,-2300),(2020.30,-900),(2020.32,-2800),(2020.25,-3500),(2020.18,-700),(2020.27,-200),(2020.29,-1800),(2020.20,1000),(2020.23,1900),(2020.33,-3300),
  (2020.20,-6300),(2020.25,-8000),(2020.30,-9200),(2020.35,-7000),(2020.40,-10500),(2020.35,-12900),(2020.30,-14300),(2020.25,-11500),
  (2020.40,1800),(2020.45,-400),(2020.50,1500),(2020.55,-1700),(2020.60,1900),(2020.65,600),(2020.70,-2200),(2020.75,1700),(2020.80,-600),(2020.85,1100),(2020.90,-1300),(2020.95,1800),(2021.00,-2500),(2021.05,300),(2021.10,1900),(2021.15,-1000),(2021.20,1400),(2021.25,-3000),(2021.30,1800),(2021.35,-200),(2021.40,-1600),(2021.45,1900),(2021.50,900),(2021.55,-2200),(2021.60,1700),(2021.65,-500),(2021.70,-3200),(2021.75,1200),(2021.80,-1400),(2021.85,1900),(2021.90,-2600),(2021.95,500),
  (2020.50,-4300),(2020.60,-5500),(2020.70,-3800),(2020.80,-6400),(2020.90,-4700),(2021.00,-7200),(2021.10,-5100),(2021.20,-4000),(2021.30,-6000),(2021.40,-3500),(2021.50,-5300),(2021.60,-4200),(2021.70,-6600),(2021.80,-4900),(2021.90,-7100),(2021.50,-2800),(2021.55,-3600),
  (2020.45,-9100),(2020.55,-12000),(2020.65,-8400),(2020.75,-14800),(2020.85,-10400),(2020.95,-9000),(2021.05,-13300),(2021.15,-11200),(2021.25,-8800),(2021.35,-10200),(2021.45,-14200),(2021.55,-9600),(2021.65,-12600),(2021.75,-8300),(2021.85,-11000),(2021.95,-13700),(2020.70,-8100),(2020.72,-8500)]

q_2022_2024 = [(2022.00,-1000),(2022.02,-1700),(2022.04,-2400),(2022.06,-3100),(2022.08,-3800),(2022.10,-4500),(2022.12,-5200),(2022.05,-1300),(2022.07,-2000),(2022.09,-2700),(2022.11,-3400),(2022.13,-4100),(2022.15,-4800),(2022.14,-1500),(2022.16,-2200),(2022.18,-2900),(2022.20,-3600),(2022.22,-4300),(2022.17,-5600),(2022.19,-1100),(2022.21,-1800),(2022.24,-2500),(2022.26,-3200),(2022.28,-3900),(2022.25,-4600),(2022.03,-600),(2022.10,-200),(2022.20,-700),(2022.27,-1400),(2022.12,-3000),(2022.01,-2800),(2022.23,-5300),(2022.18,-6000),(2022.06,-4900),(2022.30,-2700),
  (2022.32,-2000),(2022.35,-3000),(2022.38,-2500),(2022.40,-3500),(2022.43,-2200),(2022.45,-2800),(2022.48,-3300),(2022.50,-1800),(2022.53,-2600),(2022.55,-3100),(2022.58,-2300),(2022.60,-2900),(2022.63,-3600),(2022.65,-2000),(2022.68,-2700),(2022.70,-3200),(2022.73,-2400),(2022.75,-3000),(2022.78,-2100),(2022.80,-2800),(2022.83,-3400),(2022.85,-2500),(2022.88,-3100),(2022.90,-2200),(2022.93,-2900),(2022.96,-3500),(2022.40,-4200),(2022.60,-4500),(2022.80,-4000),(2022.70,-5000),
  (2022.30,1800),(2022.35,500),(2022.40,1200),(2022.45,200),(2022.50,900),(2022.55,-400),(2022.60,1900),(2022.62,700),(2022.65,100),(2022.68,1300),(2022.70,-600),(2022.72,1800),(2022.75,400),(2022.78,1000),(2022.80,-200),(2022.85,1500),(2022.90,600),(2022.95,-800),(2023.00,1200),
  (2022.30,-6500),(2022.35,-8200),(2022.40,-7300),(2022.50,-9700),(2022.55,-7000),(2022.60,-9300),(2022.62,-9900),(2022.64,-10500),(2022.66,-11200),(2022.70,-8500),(2022.75,-7600),(2022.80,-10200),(2022.85,-12500),(2022.90,-8000),(2022.95,-6900),(2022.40,-13600),(2022.50,-12000),(2022.70,-13200),(2022.90,-14200),
  (2023.05,1800),(2023.10,-800),(2023.15,-2000),(2023.20,1300),(2023.25,-1500),(2023.30,-3200),(2023.35,1900),(2023.40,-600),(2023.45,-2600),(2023.05,-4500),(2023.10,-6000),(2023.20,-5200),(2023.30,-7500),(2023.40,-4200),(2023.15,-9000),(2023.25,-10600),(2023.35,-8600),(2023.45,-12300),(2023.10,-13800),(2023.30,-14500),(2023.40,-6500),(2023.45,-11200),
  (2023.55,1900),(2023.57,1300),(2023.60,700),(2023.62,100),(2023.64,-500),(2023.66,-1100),(2023.58,-1700),(2023.60,-2300),(2023.63,-2900),(2023.65,-3500),(2023.67,-4100),(2023.60,-4700),(2023.62,-5300),(2023.64,-5900),(2023.66,-6500),(2023.68,-7100),(2023.56,-600),(2023.59,-3200),(2023.61,-3800),(2023.63,-4400),(2023.65,-1400),(2023.67,-2000),(2023.69,-2600),(2023.58,1000),(2023.62,-6000),(2023.68,-5000),(2023.54,-2800),(2023.66,400),(2023.69,-8000),(2023.65,-9500),(2023.68,-12000),(2023.66,-14000)]

q_top_band = [(2007.01,1000),(2007.04,600),(2007.07,1700),(2007.09,1100),(2007.12,500),(2007.14,1350),(2007.17,1750),(2007.20,900),(2007.23,1250),(2007.26,650),(2007.28,1600),(2007.32,1000),(2007.35,1900),(2007.38,1500),(2007.40,1250),(2007.44,1750),(2007.47,1000),(2007.49,1350),(2007.18,150),(2007.33,300),
  (2008.08,1000),(2008.14,1650),(2008.22,1300),(2008.32,1750),(2008.43,1300),(2008.50,1800),(2008.62,1500),(2008.71,1800),(2008.80,1400),(2008.90,1750),(2009.02,1500),(2009.12,1800),(2009.24,1650),(2009.32,1250),(2009.44,1800),(2009.52,1100),(2009.68,1500),(2009.76,1800),(2009.90,1300),(2010.04,1650),(2010.14,1800),(2010.27,1500),(2010.40,1800),(2010.52,1300),(2010.60,1700),(2010.74,1500),(2010.88,1750),(2011.00,1350),(2011.12,1800),(2011.35,1650),(2011.48,1850),(2011.62,1400),(2011.85,1750),(2011.98,1850),(2012.10,1400),(2012.26,1750),(2012.42,1850),(2012.58,1500),(2012.72,1700),(2012.88,1850),(2013.08,1700),(2013.22,1400),(2013.38,1850),(2013.52,1500),(2013.68,1800),(2013.82,1400),(2014.02,1800),(2014.12,1600),(2014.28,1750),(2014.38,1400),(2014.52,1800),(2014.58,1500),(2014.64,1700),(2014.70,1850),(2014.90,1700),(2015.08,1750),(2015.18,1850),(2015.30,1700),(2015.42,1850),(2015.56,1700),(2015.68,1850),(2015.80,1600),(2015.92,1850),(2016.04,1700),(2016.30,1800),(2016.38,1500),(2016.45,1850),(2016.55,1700),(2016.68,1850),(2016.82,1800),(2016.95,1850),(2017.08,1700),(2017.20,1850),(2017.35,1800),(2017.50,1700),(2017.58,1850),(2017.72,1800),(2017.85,1850),(2018.05,1700),(2018.15,1850),(2018.25,1600),(2018.42,1900),(2018.56,1800),(2018.68,1850),(2018.82,1900),(2018.98,1750),(2019.15,1850),(2019.28,1700),(2019.45,1800),(2019.55,1650),(2019.68,1850),(2019.88,1700),(2020.05,1850),(2020.12,1600),(2020.22,1750),(2020.38,1850),(2020.52,1700),(2020.68,1850),(2020.82,1800),(2021.00,1700),(2021.15,1850),(2021.35,1750),(2021.52,1850),(2021.68,1750),(2021.80,1850),(2021.98,1700),(2022.10,1850),(2022.22,1600),(2022.38,1850),(2022.52,1750),(2022.58,1850),(2022.66,1750),(2022.82,1850),(2022.98,1800),(2023.12,1850),(2023.28,1750),(2023.42,1850),(2023.50,1700),(2023.62,1850),
  (2008.16,600),(2008.34,-300),(2008.48,800),(2008.66,-100),(2008.82,600),(2009.04,-200),(2009.18,700),(2009.36,-500),(2009.47,500),(2009.74,400),(2009.92,-300),(2010.06,800),(2010.20,-500),(2010.38,300),(2010.55,-400),(2010.68,800),(2010.86,300),(2011.02,-200),(2011.30,900),(2011.45,-300),(2011.58,700),(2011.72,-100),(2011.88,600),(2012.04,200),(2012.18,800),(2012.38,400),(2012.52,-400),(2012.68,900),(2012.82,200),(2012.98,600),(2013.12,900),(2013.28,300),(2013.42,700),(2013.58,200),(2013.72,700),(2013.88,300),(2014.08,600),(2014.22,200),(2014.34,800),(2014.78,300),(2014.92,900),(2015.06,300),(2015.20,700),(2015.34,200),(2015.48,800),(2015.62,300),(2015.78,700),(2015.88,100),(2016.02,800),(2016.12,300),(2016.52,500),(2016.64,100),(2016.74,600),(2016.88,300),(2017.02,700),(2017.12,200),(2017.28,500),(2017.42,900),(2017.58,300),(2017.72,900),(2017.88,400),(2018.08,700),(2018.20,200),(2018.52,600),(2018.62,200),(2018.74,700),(2018.88,300),(2019.04,800),(2019.20,400),(2019.38,700),(2019.58,300),(2019.76,700),(2019.92,200),(2020.08,600),(2020.36,400),(2020.48,900),(2020.62,200),(2020.78,800),(2020.92,300),(2021.08,800),(2021.22,200),(2021.38,700),(2021.58,300),(2021.72,700),(2021.88,400),(2022.04,300),(2022.16,800),(2022.28,300),(2022.42,800),(2022.48,-100),(2022.57,300),(2022.74,900),(2022.88,200),(2022.92,900),(2023.08,400),(2023.22,700),(2023.38,300),(2023.48,900)]

q_mid_band = [(2011.27,-1800),(2011.38,-1300),(2011.52,-2100),(2011.68,-1200),(2011.78,-2300),(2011.94,-1600),(2012.08,-1100),(2012.22,-2200),(2012.34,-1500),(2012.48,-1900),(2012.62,-1100),(2012.78,-2000),(2012.92,-1500),(2013.04,-2300),(2013.18,-1600),(2013.34,-1000),(2013.48,-2000),(2013.62,-1300),(2013.78,-2200),(2013.92,-1700),(2014.06,-1200),(2014.18,-2400),(2014.32,-1500),(2014.42,-2100),(2014.80,-2000),(2014.96,-1100),(2015.08,-1700),(2015.24,-2200),(2015.38,-1700),(2015.52,-1300),(2015.64,-1900),(2015.78,-1100),(2015.92,-1400),(2016.06,-2200),(2016.14,-1300),(2016.54,-1600),(2016.62,-2200),(2016.72,-1400),(2016.84,-2300),(2016.94,-1600),(2017.04,-1200),(2017.16,-2400),(2017.32,-1300),(2017.44,-2200),(2017.56,-1400),(2017.74,-2100),(2017.88,-1200),(2018.10,-1800),(2018.20,-2400),(2018.58,-1400),(2018.70,-2300),(2018.88,-1500),(2019.02,-2200),(2019.18,-1700),(2019.34,-2200),
  (2007.12,-4800),(2007.28,-5500),(2007.42,-4200),(2007.58,-3400),(2007.72,-4600),(2007.84,-3300),(2008.08,-3800),(2008.18,-5200),(2008.32,-4400),(2008.42,-3000),(2008.58,-6200),(2008.68,-3600),(2008.88,-5000),(2009.02,-3800),(2009.12,-4600),(2009.28,-5400),(2009.42,-3600),(2009.52,-6600),(2009.68,-4500),(2009.82,-5800),(2009.95,-3500),(2010.10,-5000),(2010.25,-3800),(2010.42,-4600),(2010.52,-6800),(2010.66,-4000),(2010.78,-3300),(2010.92,-5600),(2011.38,-5500),(2011.52,-3900),(2011.68,-5100),(2011.82,-3400),(2011.92,-6300),(2012.08,-3700),(2012.18,-5200),(2012.36,-6500),(2012.48,-3800),(2012.58,-5500),(2012.70,-4200),(2012.82,-6000),(2012.92,-3500),(2013.08,-5200),(2013.18,-3800),(2013.32,-6200),(2013.48,-3400),(2013.62,-4500),(2013.74,-6200),(2013.86,-3500),(2013.96,-5000),(2014.12,-3600),(2014.26,-6000),(2014.36,-3400),(2014.62,-7000),(2014.66,-6400),(2014.76,-5000),(2014.88,-6000),(2015.00,-3600),(2015.12,-5000),(2015.22,-3400),(2015.32,-4400),(2015.44,-6200),(2015.58,-4000),(2015.68,-3500),(2015.78,-5900),(2015.88,-4600),(2015.98,-3500),(2016.08,-6100),(2016.20,-3300),(2016.48,-6200),(2016.58,-3400),(2016.68,-4200),(2016.78,-5500),(2016.90,-3300),(2017.02,-4900),(2017.14,-3600),(2017.26,-4600),(2017.38,-3900),(2017.48,-5200),(2017.62,-4700),(2017.76,-5500),(2017.90,-4200),(2018.06,-5500),(2018.16,-3600),(2018.26,-4800),(2018.56,-5800),(2018.66,-4200),(2018.76,-6600),(2018.92,-4800),(2019.08,-3300),(2019.22,-5600),(2019.38,-6400),(2019.62,-3600),(2019.72,-4500),(2019.86,-3800),(2020.04,-5600),(2020.14,-4600),(2020.42,-6000),(2020.58,-3300),(2020.76,-5000),(2020.94,-6200),(2021.12,-3600),(2021.28,-4800),(2021.44,-6800),(2021.62,-5600),(2021.78,-3600),(2021.96,-4500),(2022.34,-5400),(2022.46,-6000),(2022.58,-5600),(2022.72,-6200),(2022.86,-5600),(2022.98,-4800),(2023.12,-3500),(2023.25,-6200),(2023.38,-5300),(2023.50,-4000),
  (2007.08,-11000),(2007.22,-14200),(2007.38,-10900),(2007.52,-12600),(2007.68,-14300),(2007.92,-13600),(2008.12,-14800),(2008.28,-9700),(2008.48,-13900),(2008.62,-11000),(2008.82,-14400),(2009.08,-14700),(2009.22,-11500),(2009.38,-13000),(2009.58,-14600),(2009.72,-11800),(2010.30,-14500),(2010.50,-12700),(2011.10,-14200),(2011.40,-12500),(2011.70,-13400),(2012.00,-14500),(2012.12,-12700),(2012.40,-14600),(2012.68,-13300),(2012.98,-14700),(2013.12,-12000),(2013.32,-14500),(2013.45,-13000),(2014.30,-12400),(2014.62,-13200),(2015.10,-10800),(2015.30,-12600),(2015.42,-14700),(2015.62,-11800),(2015.82,-14600),(2016.20,-12300),(2016.40,-14100),(2016.65,-13600),(2016.88,-14800),(2017.15,-12800),(2017.42,-14600),(2017.68,-13800),(2017.92,-14700),(2018.30,-13700),(2018.40,-14700),(2018.95,-14800),(2019.40,-13000),(2019.55,-14300),(2019.88,-12200),(2020.10,-13200),(2020.50,-14400),(2020.88,-13100),(2021.20,-14600),(2021.60,-14300),(2021.90,-12200),(2022.20,-13900),(2022.45,-10500),(2022.60,-14000),(2022.75,-11000),(2022.95,-13000),(2023.20,-12800),(2023.55,-13700),(2023.60,-10800)]

quake_groups = [q_2007_2008, q_2008_2011, q_deep_2007_2011, q_2011_2013, q_2013_2016, q_2016_2018,
                q_2018_2020, q_2020_2022, q_2022_2024, q_top_band, q_mid_band]

# ---------------- styling helpers ----------------
FONT = "DejaVu Sans"
X_START, X_END = 2007.0, 2023.71
DV_LO, DV_HI = -4.0, 8.264
minus_fmt = CustomJSTickFormatter(code="return (tick < 0 ? '\u2212' : '') + Math.abs(tick).toFixed(0);")

half_year_marks = [X_START + 0.5 * i for i in range(int((X_END - X_START) / 0.5) + 1)]
depth_marks = [-15000 + 1000 * i for i in range(18)]


def style_axis(ax, show_labels=True, color="black", size="14px"):
    ax.axis_line_color = "black"
    ax.axis_line_width = 1
    ax.major_tick_in = 5
    ax.major_tick_out = 0
    ax.minor_tick_in = 3
    ax.minor_tick_out = 0
    ax.major_tick_line_color = "black"
    ax.minor_tick_line_color = "black"
    ax.major_label_text_font = FONT
    ax.major_label_text_font_style = "bold"
    ax.major_label_text_color = color
    ax.major_label_text_font_size = size
    ax.major_label_standoff = 4 if show_labels else 0
    ax.axis_label_text_font = FONT
    ax.axis_label_text_font_style = "bold"
    ax.axis_label_text_font_size = "13px"
    ax.axis_label_text_color = "black"
    ax.axis_label_standoff = 5


def tick_only_axis(marks, **kw):
    # an axis that shows only inward ticks (no tick labels)
    ax = LinearAxis(ticker=FixedTicker(ticks=[], minor_ticks=marks), **kw)
    style_axis(ax, show_labels=False)
    ax.minor_tick_in = 4
    return ax


# ---------------- panel (a) ----------------
p1 = figure(width=1026, height=279, output_backend="svg", toolbar_location=None,
            x_range=Range1d(X_START, X_END), y_range=Range1d(0, 831),
            x_axis_location=None, y_axis_location="left",
            min_border_left=98, min_border_right=50, min_border_top=24, min_border_bottom=22,
            title="(a)")
p1.title.align = "center"
p1.title.text_font = FONT
p1.title.text_font_size = "14px"
p1.title.text_font_style = "bold"
p1.title.text_color = "black"
p1.title.standoff = 3
p1.grid.visible = False
p1.outline_line_color = "black"
p1.extra_y_ranges = {"dv": Range1d(DV_LO, DV_HI)}

p1.yaxis.ticker = SingleIntervalTicker(interval=200, num_minor_ticks=2)
style_axis(p1.yaxis[0], color="#FFD700")
p1.yaxis.axis_label = "Seismic Events per Year"
p1.yaxis.axis_label_text_color = "#8A7700"

# bottom of panel (a): ticks only, the "(b)" heading sits in the gap below
bottom1 = tick_only_axis(half_year_marks, axis_label="(b)")
bottom1.axis_label_text_font_size = "14px"
bottom1.axis_label_standoff = 3
p1.add_layout(bottom1, "below")
p1.add_layout(tick_only_axis(half_year_marks), "above")

right1 = LinearAxis(y_range_name="dv", ticker=SingleIntervalTicker(interval=2, num_minor_ticks=4),
                    formatter=minus_fmt, axis_label="dv/v [%]")
style_axis(right1)
right1.axis_label_standoff = 4
try:
    # read bottom-to-top (like the reference), centred on the frame
    right1.axis_label_orientation = math.pi / 2
    right1.axis_label_text_align = "center"
except Exception:
    pass
p1.add_layout(right1, "right")

bar_left = list(bar_years)
bar_right = [y + 1 for y in bar_years]
p1.quad(left=bar_left, right=bar_right, bottom=0, top=events_per_year,
        fill_color="#FFD700", fill_alpha=0.4, line_color=None)

p1.line([t for t, _ in hf], [v for _, v in hf], y_range_name="dv", color="black",
        line_width=1.6, legend_label="1.0-2.0  Hz")
p1.line([t for t, _ in mf], [v for _, v in mf], y_range_name="dv", color="#3c3c3c",
        line_width=1.6, legend_label="0.5-1.0  Hz")
p1.line([t for t, _ in lf], [v for _, v in lf], y_range_name="dv", color="#A9A9A9",
        line_width=1.6, legend_label="0.25-0.5 Hz x5")

lg = p1.legend[0]
lg.location = "top_left"
lg.background_fill_alpha = 0
lg.border_line_alpha = 0
lg.label_text_font = FONT
lg.label_text_font_style = "bold"
lg.label_text_font_size = "13px"
lg.label_text_color = "black"
lg.glyph_width = 22
lg.glyph_height = 16
lg.label_height = 16
lg.spacing = 3
lg.padding = 8
lg.margin = 6
lg.label_standoff = 12

# ---------------- panel (b) ----------------
p2 = figure(width=1026, height=257, output_backend="svg", toolbar_location=None,
            x_range=Range1d(X_START, X_END), y_range=Range1d(-15780, 2870),
            min_border_left=98, min_border_right=50, min_border_top=2, min_border_bottom=23)
p2.grid.visible = False
p2.outline_line_color = "black"

p2.xaxis.ticker = SingleIntervalTicker(interval=2, num_minor_ticks=4)
style_axis(p2.xaxis[0])
p2.yaxis.ticker = SingleIntervalTicker(interval=5000, num_minor_ticks=5)
p2.yaxis.formatter = minus_fmt
style_axis(p2.yaxis[0])
p2.yaxis.axis_label = "z [m]"

p2.add_layout(tick_only_axis(half_year_marks), "above")
p2.add_layout(tick_only_axis(depth_marks), "right")

qt = [t for g in quake_groups for t, _ in g]
qz = [z for g in quake_groups for _, z in g]
p2.scatter(qt, qz, size=3.3, color="black")

layout = column(p1, p2, spacing=0)
open("out.html", "w").write(file_html(layout, INLINE))
